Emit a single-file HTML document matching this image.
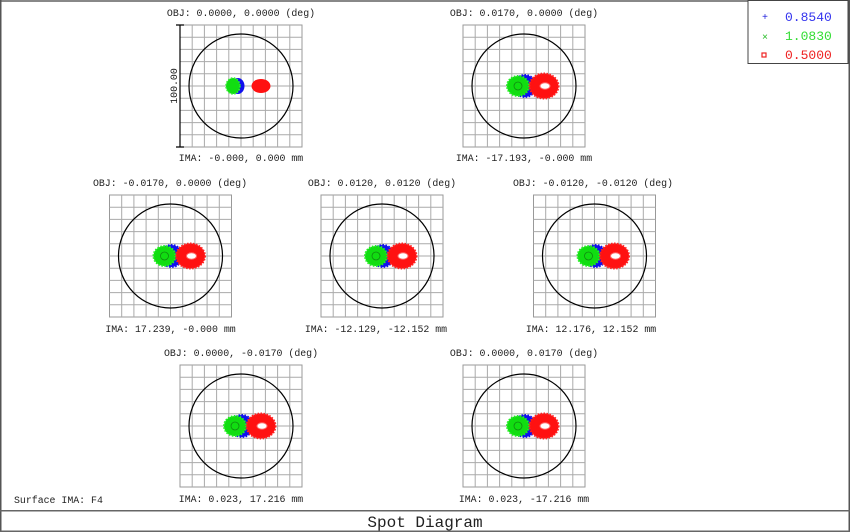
<!DOCTYPE html>
<html><head><meta charset="utf-8"><style>
html,body{margin:0;padding:0;background:#fff;}
svg{display:block;font-family:"Liberation Mono",monospace;}
</style></head><body>
<svg width="850" height="532" viewBox="0 0 850 532" xmlns="http://www.w3.org/2000/svg">
<defs>
<g id="grid">
<rect x="-61" y="-61" width="122" height="122" fill="none" stroke="#999" stroke-width="1"/>
<path d="M-48.8 -61V61M-36.6 -61V61M-24.4 -61V61M-12.2 -61V61M0 -61V61M12.2 -61V61M24.4 -61V61M36.6 -61V61M48.8 -61V61M-61 -48.8H61M-61 -36.6H61M-61 -24.4H61M-61 -12.2H61M-61 0H61M-61 12.2H61M-61 24.4H61M-61 36.6H61M-61 48.8H61" stroke="#aaa" stroke-width="1" fill="none"/>
<circle cx="0" cy="0" r="52" fill="none" stroke="#000" stroke-width="1.2"/>
</g>
<g id="spots">
<ellipse cx="1" cy="0" rx="11" ry="11" fill="#1010ee" stroke="#1010ee" stroke-width="2" stroke-dasharray="1.5 1.5"/>
<ellipse cx="-6" cy="0" rx="11" ry="10" fill="#11dd11" stroke="#22ee22" stroke-width="2" stroke-dasharray="1.5 1.5"/>
<ellipse cx="-6" cy="0" rx="4" ry="4" fill="none" stroke="#118811" stroke-width="0.8"/>
<ellipse cx="20" cy="0" rx="14.5" ry="12.5" fill="#ff1111" stroke="#ff2222" stroke-width="2" stroke-dasharray="1.5 1.5"/>
<ellipse cx="21" cy="0" rx="5" ry="3.2" fill="#fff" stroke="#ff6666" stroke-width="1"/>
</g>
<g id="spots1">
<ellipse cx="-3" cy="0" rx="6.5" ry="8" fill="#1010ee"/>
<ellipse cx="-8" cy="0" rx="7" ry="8" fill="#11dd11" stroke="#33ee33" stroke-width="1.5" stroke-dasharray="1.5 1.5"/>
<ellipse cx="20" cy="0" rx="9.5" ry="7" fill="#ff1111"/>
</g>
</defs>
<rect x="0" y="0" width="850" height="2" fill="#888"/>
<rect x="0" y="0" width="1.5" height="532" fill="#555"/>
<rect x="848.5" y="0" width="1.5" height="532" fill="#555"/>
<rect x="0" y="510" width="850" height="1.5" fill="#666"/>
<rect x="0" y="530.5" width="850" height="1.5" fill="#666"/>

<g font-size="9.9" fill="#222" text-anchor="middle">
<text x="241" y="16">OBJ: 0.0000, 0.0000 (deg)</text>
<g transform="translate(241,86)"><use href="#grid"/><use href="#spots1"/></g>
<path d="M180 25V147M176 25H184M176 147H184" stroke="#000" stroke-width="1.2" fill="none"/>
<text x="0" y="0" transform="translate(177,86) rotate(-90)">100.00</text>
<text x="241" y="161">IMA: -0.000, 0.000 mm</text>

<text x="524" y="16">OBJ: 0.0170, 0.0000 (deg)</text>
<g transform="translate(524,86)"><use href="#grid"/><use href="#spots"/></g>
<text x="524" y="161">IMA: -17.193, -0.000 mm</text>

<text x="170" y="186">OBJ: -0.0170, 0.0000 (deg)</text>
<g transform="translate(170.5,256)"><use href="#grid"/><use href="#spots"/></g>
<text x="170.5" y="332">IMA: 17.239, -0.000 mm</text>

<text x="382" y="186">OBJ: 0.0120, 0.0120 (deg)</text>
<g transform="translate(382,256)"><use href="#grid"/><use href="#spots"/></g>
<text x="376" y="332">IMA: -12.129, -12.152 mm</text>

<text x="593" y="186">OBJ: -0.0120, -0.0120 (deg)</text>
<g transform="translate(594.5,256)"><use href="#grid"/><use href="#spots"/></g>
<text x="591" y="332">IMA: 12.176, 12.152 mm</text>

<text x="241" y="356">OBJ: 0.0000, -0.0170 (deg)</text>
<g transform="translate(241,426)"><use href="#grid"/><use href="#spots"/></g>
<text x="241" y="502">IMA: 0.023, 17.216 mm</text>

<text x="524" y="356">OBJ: 0.0000, 0.0170 (deg)</text>
<g transform="translate(524,426)"><use href="#grid"/><use href="#spots"/></g>
<text x="524" y="502">IMA: 0.023, -17.216 mm</text>
</g>
<text x="14" y="503" font-size="9.9" fill="#222">Surface IMA: F4</text>
<text x="425" y="527" font-size="16" fill="#222" text-anchor="middle">Spot Diagram</text>

<rect x="748" y="0.5" width="100" height="63" fill="#fff" stroke="#444" stroke-width="1"/>
<g font-size="13">
<text x="762" y="20" font-size="10" fill="#2222dd">+</text>
<text x="785" y="21" fill="#3333ee">0.8540</text>
<text x="762" y="40" font-size="10" fill="#22bb22">×</text>
<text x="785" y="40" fill="#33dd33">1.0830</text>
<rect x="762" y="53" width="4" height="4" fill="none" stroke="#ee2222" stroke-width="1.2"/>
<text x="785" y="59" fill="#ee2222">0.5000</text>
</g>
</svg>
</body></html>
